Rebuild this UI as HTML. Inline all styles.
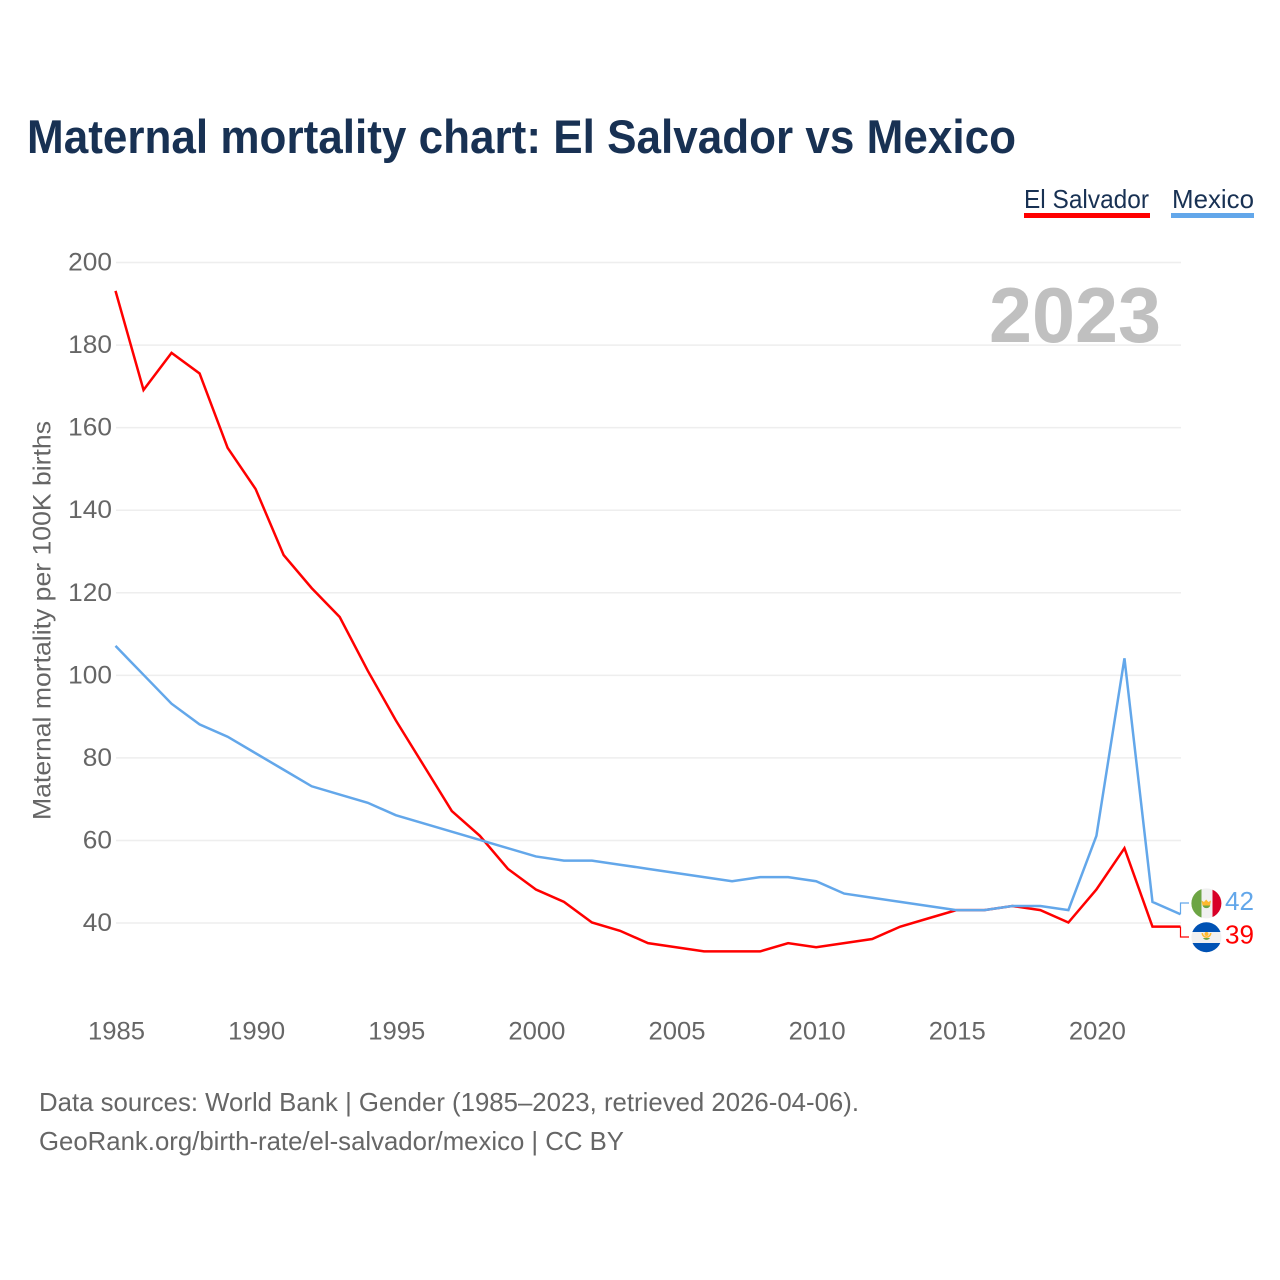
<!DOCTYPE html>
<html lang="en">
<head>
<meta charset="utf-8">
<title>Maternal mortality chart: El Salvador vs Mexico</title>
<style>
html,body{margin:0;padding:0;background:#fff;}
svg{display:block;font-family:"Liberation Sans",sans-serif;}
</style>
</head>
<body>
<svg id="chart" xmlns="http://www.w3.org/2000/svg" width="1280" height="1280" viewBox="0 0 1280 1280">
  <rect width="1280" height="1280" fill="#ffffff"/>
  <text x="27" y="153" font-size="47" font-weight="700" fill="#183153" textLength="989" lengthAdjust="spacingAndGlyphs">Maternal mortality chart: El Salvador vs Mexico</text>
  <g>
    <text x="1024" y="208" font-size="26" fill="#183153" textLength="125" lengthAdjust="spacingAndGlyphs">El Salvador</text>
    <rect x="1024" y="213" width="126" height="5" fill="#ff0000"/>
  </g>
  <g>
    <text x="1172" y="208" font-size="26" fill="#183153" textLength="82" lengthAdjust="spacingAndGlyphs">Mexico</text>
    <rect x="1171" y="213" width="83" height="5" fill="#63a7ea"/>
  </g>
  <g id="grid"></g>
  <g id="y-ticks"></g>
  <g id="x-ticks"></g>
  <text transform="translate(50.5 820) rotate(-90)" font-size="25" fill="#666666" textLength="399" lengthAdjust="spacingAndGlyphs">Maternal mortality per 100K births</text>
  <text id="year-label" x="989" y="342" font-size="78" font-weight="700" fill="#c0c0c0" textLength="172" lengthAdjust="spacingAndGlyphs">2023</text>
  <g id="series" transform="translate(-0.5 -0.5)"></g>
  <g id="end-labels"></g>
  <defs>
    <clipPath id="clip-mx"><circle cx="1206.4" cy="903.4" r="15"/></clipPath>
    <clipPath id="clip-sv"><circle cx="1206.4" cy="937.2" r="15"/></clipPath>
  </defs>
  <g clip-path="url(#clip-mx)">
    <rect x="1191" y="888" width="31" height="31" fill="#f0f0f0"/>
    <rect x="1191" y="888" width="10.5" height="31" fill="#6da544"/>
    <rect x="1212.5" y="888" width="9.5" height="31" fill="#d80027"/>
    <path d="M1201.5 900.5 l2.5 1.5 l2.2 -2.5 l2.2 2.5 l2.6 -1.5 l-1 5 h-7.5 z" fill="#ffb92e"/>
    <path d="M1202.5 905.5 a4.2 4.2 0 0 0 7.8 0 z" fill="#6da544"/>
  </g>
  <g clip-path="url(#clip-sv)">
    <rect x="1191" y="922" width="31" height="31" fill="#f0f0f0"/>
    <rect x="1191" y="922" width="31" height="10" fill="#0052b4"/>
    <rect x="1191" y="943" width="31" height="10" fill="#0052b4"/>
    <path d="M1201.5 933 a5 5 0 0 0 10 0 l-1.6 0 a3.4 3.4 0 0 1 -6.8 0 z" fill="#ffb92e"/>
    <circle cx="1206.5" cy="934" r="2" fill="#ffb92e"/>
    <path d="M1203 938 a4.2 4.2 0 0 0 7 0 z" fill="#6da544"/>
  </g>
  <text x="39" y="1111" font-size="26" fill="#666666" textLength="820" lengthAdjust="spacingAndGlyphs">Data sources: World Bank | Gender (1985–2023, retrieved 2026-04-06).</text>
  <text x="39" y="1150" font-size="26" fill="#666666" textLength="585" lengthAdjust="spacingAndGlyphs">GeoRank.org/birth-rate/el-salvador/mexico | CC BY</text>
</svg>
<script>
const years = [1985,1986,1987,1988,1989,1990,1991,1992,1993,1994,1995,1996,1997,1998,1999,2000,2001,2002,2003,2004,2005,2006,2007,2008,2009,2010,2011,2012,2013,2014,2015,2016,2017,2018,2019,2020,2021,2022,2023];
const elSalvador = [193,169,178,173,155,145,129,121,114,101,89,78,67,61,53,48,45,40,38,35,34,33,33,33,35,34,35,36,39,41,43,43,44,43,40,48,58,39,39];
const mexico = [107,100,93,88,85,81,77,73,71,69,66,64,62,60,58,56,55,55,54,53,52,51,50,51,51,50,47,46,45,44,43,43,44,44,43,61,104,45,42];
const yTicks = [40,60,80,100,120,140,160,180,200];
const xTicks = [1985,1990,1995,2000,2005,2010,2015,2020];

const NS = 'http://www.w3.org/2000/svg';
function xScale(year){ return 116 + (year - 1985) * (1181 - 116) / (2023 - 1985); }
function yScale(value){ return 923 - (value - 40) * (923 - 262.5) / (200 - 40); }
function make(tag, parent, attrs){
  const el = document.createElementNS(NS, tag);
  for (const k in attrs) el.setAttribute(k, attrs[k]);
  parent.appendChild(el);
  return el;
}
const grid = document.getElementById('grid');
const yG = document.getElementById('y-ticks');
const xG = document.getElementById('x-ticks');
const seriesG = document.getElementById('series');
const endG = document.getElementById('end-labels');

yTicks.forEach(function(t){
  const line = make('line', grid, {x1:116, x2:1181, y1:yScale(t), y2:yScale(t), stroke:'#eeeeee', 'stroke-width':1.5});
  
  
  const w = String(t).length * 14.6;
  const label = make('text', yG, {x:112 - w, y:yScale(t) + 8, 'font-size':25, fill:'#666666', textLength:w, lengthAdjust:'spacingAndGlyphs'});
  label.textContent = t;
  
  
});
xTicks.forEach(function(t){
  const label = make('text', xG, {x:xScale(t) - 28, y:1039.5, 'font-size':25, fill:'#666666', textLength:57, lengthAdjust:'spacingAndGlyphs'});
  label.textContent = t;
  
  
});
function pathFor(values){
  return values.map(function(v, i){
    return (i ? 'L' : 'M') + xScale(years[i]).toFixed(2) + ' ' + yScale(v).toFixed(2);
  }).join(' ');
}
const lineEs = make('path', seriesG, {d:pathFor(elSalvador), fill:'none', stroke:'#ff0000', 'stroke-width':2.5, 'stroke-linejoin':'miter'});


const lineMx = make('path', seriesG, {d:pathFor(mexico), fill:'none', stroke:'#63a7ea', 'stroke-width':2.5, 'stroke-linejoin':'miter'});



const lastX = xScale(years[years.length - 1]) - 0.5;
const lastEs = elSalvador[elSalvador.length - 1];
const lastMx = mexico[mexico.length - 1];
const connMx = make('path', endG, {d:'M' + lastX + ' ' + (yScale(lastMx) - 0.5) + ' V903 H1189', fill:'none', stroke:'#63a7ea', 'stroke-width':1.2});


const connEs = make('path', endG, {d:'M' + lastX + ' ' + (yScale(lastEs) - 0.5) + ' V937 H1189', fill:'none', stroke:'#ff0000', 'stroke-width':1.2});


const valMx = make('text', endG, {x:1225, y:910, 'font-size':26, fill:'#63a7ea', textLength:29, lengthAdjust:'spacingAndGlyphs'});
valMx.textContent = lastMx;


const valEs = make('text', endG, {x:1225, y:943.5, 'font-size':26, fill:'#ff0000', textLength:29, lengthAdjust:'spacingAndGlyphs'});
valEs.textContent = lastEs;


</script>
</body>
</html>
